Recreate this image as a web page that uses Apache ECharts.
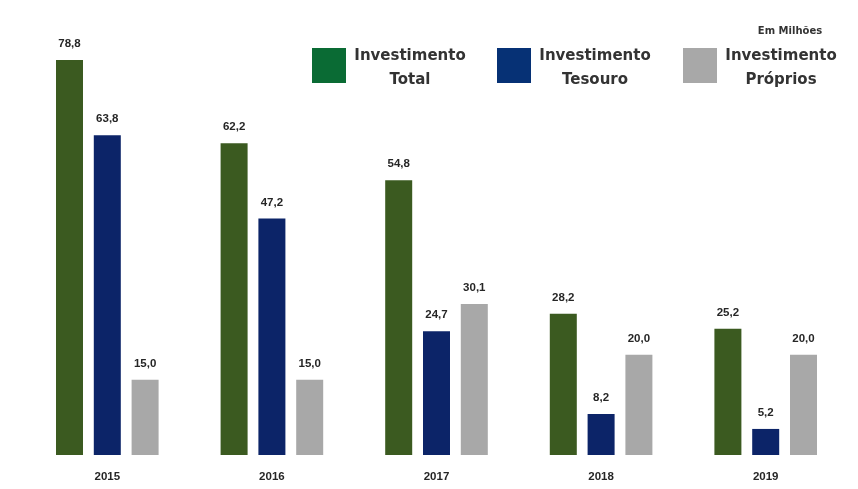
<!DOCTYPE html>
<html>
<head>
<meta charset="utf-8">
<script src="https://cdn.jsdelivr.net/npm/echarts@6/dist/echarts.min.js"></script>
<style>
  html, body { margin: 0; padding: 0; background: #ffffff; }
  #chart { width: 858px; height: 489px; }
</style>
</head>
<body>
<div id="chart"></div>
<script>
// Investment by year, in millions
const years = ['2015', '2016', '2017', '2018', '2019'];
const investimentoTotal = [78.8, 62.2, 54.8, 28.2, 25.2];
const investimentoTesouro = [63.8, 47.2, 24.7, 8.2, 5.2];
const investimentoProprios = [15.0, 15.0, 30.1, 20.0, 20.0];

const seriesNames = ['Investimento\nTotal', 'Investimento\nTesouro', 'Investimento\nPróprios'];
const barColors = ['#3b5a20', '#0c2468', '#a8a8a8'];
const legendColors = ['#0a6b34', '#063175', '#a8a8a8'];
const unitNote = 'Em Milhões';

const numFont = '"Liberation Sans Narrow", "Liberation Sans", Arial, sans-serif';
const legendFont = '"DejaVu Sans", "Noto Sans", sans-serif';

const fmt = p => p.value.toFixed(1).replace('.', ',');

function makeSeries(name, data, color) {
  return {
    name: name,
    type: 'bar',
    data: data,
    barWidth: 27,
    barGap: '40%',
    itemStyle: { color: color },
    label: {
      show: true,
      position: 'top',
      distance: 10,
      formatter: fmt,
      fontFamily: numFont,
      fontWeight: 'bold',
      fontSize: 11.5,
      color: '#262626'
    }
  };
}

// legend drawn as swatches plus two-line centred captions
const legendX = [312, 497, 683];
const legendGraphics = [];
seriesNames.forEach((n, i) => {
  legendGraphics.push({
    type: 'rect',
    shape: { x: legendX[i], y: 48, width: 34, height: 35 },
    style: { fill: legendColors[i] }
  });
  legendGraphics.push({
    type: 'text',
    x: legendX[i] + 98,
    y: 68,
    style: {
      text: n,
      fontFamily: legendFont,
      fontWeight: 'bold',
      fontSize: 15,
      lineHeight: 24,
      fill: '#333333',
      align: 'center',
      verticalAlign: 'middle'
    }
  });
});
legendGraphics.push({
  type: 'text',
  x: 790,
  y: 31,
  style: {
    text: unitNote,
    fontFamily: legendFont,
    fontWeight: 'bold',
    fontSize: 10,
    fill: '#333333',
    align: 'center',
    verticalAlign: 'middle'
  }
});

const chart = echarts.init(document.getElementById('chart'), null, { renderer: 'canvas' });
chart.setOption({
  animation: false,
  backgroundColor: '#ffffff',
  grid: { left: 25, right: 10, top: 54, bottom: 34 },
  xAxis: {
    type: 'category',
    data: years,
    axisLine: { show: false },
    axisTick: { show: false },
    axisLabel: {
      margin: 16,
      fontFamily: numFont,
      fontWeight: 'bold',
      fontSize: 11.5,
      color: '#262626'
    }
  },
  yAxis: {
    type: 'value',
    min: 0,
    max: 80,
    show: false
  },
  graphic: legendGraphics,
  series: [
    makeSeries(seriesNames[0], investimentoTotal, barColors[0]),
    makeSeries(seriesNames[1], investimentoTesouro, barColors[1]),
    makeSeries(seriesNames[2], investimentoProprios, barColors[2])
  ]
});
</script>
</body>
</html>
